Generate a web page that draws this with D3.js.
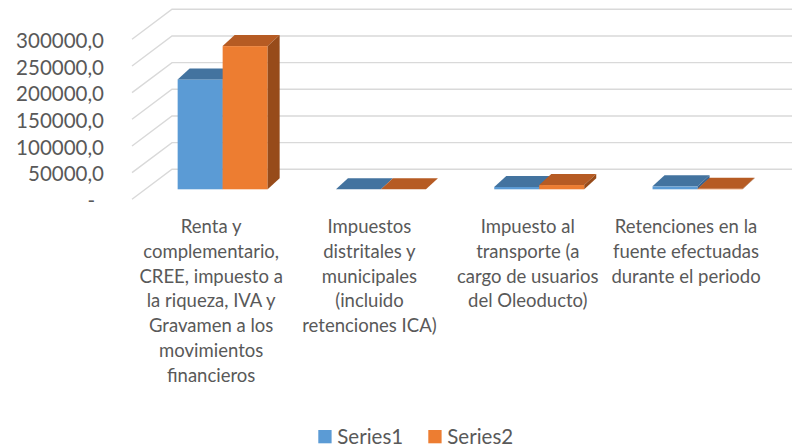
<!DOCTYPE html>
<html>
<head>
<meta charset="utf-8">
<script src="https://cdn.jsdelivr.net/npm/d3@7"></script>
<style>
  body { margin: 0; background: #fff; }
  svg text { font-family: Lato, "Open Sans", sans-serif; fill: #595959; }
</style>
</head>
<body>
<div id="chart"></div>
<script>
'use strict';

/*** Data */
const categories = [
    "Renta y\ncomplementario,\nCREE, impuesto a\nla riqueza, IVA y\nGravamen a los\nmovimientos\nfinancieros",
    "Impuestos\ndistritales y\nmunicipales\n(incluido\nretenciones ICA)",
    "Impuesto al\ntransporte (a\ncargo de usuarios\ndel Oleoducto)",
    "Retenciones en la\nfuente efectuadas\ndurante el periodo"
];
const seriesNames = ["Series1", "Series2"];
const series1 = [206000, 0, 4500, 5500];
const series2 = [268500, 0, 8000, 800];
const yTicks = [0, 50000, 100000, 150000, 200000, 250000, 300000];

/*** Layout */
const w = 792;
const h = 447;
const floorY = 199.3;        // front edge of the floor
const wallDx = 40, wallDy = -30;  // depth of the side wall
const barDx = 11.5, barDy = -10;  // where the bars sit in depth
const depthDx = 12, depthDy = -11; // bar thickness

const colors = [
    {front: "#5b9bd5", top: "#43739f", side: "#386390"},
    {front: "#ed7d31", top: "#b65b23", side: "#974b1a"}
];

const svg = d3.select("#chart")
    .append("svg")
    .attr("width", w)
    .attr("height", h);

const x = d3.scaleBand()
    .domain(d3.range(categories.length))
    .range([132, 132 + 4 * 158.3]);

const y = d3.scaleLinear()
    .domain([0, 300000])
    .range([0, 160]);

/** Gridlines: side wall diagonal + back wall line */
const grid = svg.append("g")
    .attr("fill", "none")
    .attr("stroke", "#d9d9d9")
    .attr("stroke-width", 1.4);

yTicks.forEach(v => {
    const yf = floorY - y(v);
    grid.append("path")
        .attr("d", d3.line()([[132, yf], [132 + wallDx, yf + wallDy], [w + 5, yf + wallDy]]));
});

/** Y axis labels */
const yLabels = svg.append("g");
yTicks.forEach(v => {
    yLabels.append("text")
        .attr("x", v === 0 ? 95 : 104)
        .attr("y", floorY - y(v) + 1.5)
        .attr("dy", "0.35em")
        .attr("text-anchor", "end")
        .style("font-size", "20.5px")
        .text(v === 0 ? "-" : d3.format("d")(v) + ",0");
});

/** Bars */
const groupW = 90;
const bars = svg.append("g");
[series1, series2].forEach((vals, s) => {
    vals.forEach((v, i) => {
        const x0 = x(i) + x.bandwidth() / 2 - groupW / 2 + s * groupW / 2 + barDx;
        const x1 = x0 + groupW / 2;
        const yb = floorY + barDy;
        const yt = yb - y(v);
        const c = colors[s];
        bars.append("rect")
            .attr("x", x0).attr("y", yt)
            .attr("width", x1 - x0).attr("height", yb - yt)
            .attr("fill", c.front);
        bars.append("path")
            .attr("d", d3.line()([[x0, yt], [x0 + depthDx, yt + depthDy], [x1 + depthDx, yt + depthDy], [x1, yt]]) + "Z")
            .attr("fill", c.top);
        bars.append("path")
            .attr("d", d3.line()([[x1, yt], [x1 + depthDx, yt + depthDy], [x1 + depthDx, yb + depthDy], [x1, yb]]) + "Z")
            .attr("fill", c.side);
    });
});

/** Category labels */
const catLabels = svg.append("g");
categories.forEach((c, i) => {
    const t = catLabels.append("text")
        .attr("text-anchor", "middle")
        .style("font-size", "18.5px");
    c.split("\n").forEach((line, j) => {
        t.append("tspan")
            .attr("x", x(i) + x.bandwidth() / 2)
            .attr("y", 233 + j * 24.8)
            .text(line);
    });
});

/** Legend */
const legendX = [318.3, 428.3];
const legend = svg.append("g");
seriesNames.forEach((name, s) => {
    legend.append("rect")
        .attr("x", legendX[s]).attr("y", 430)
        .attr("width", 13.3).attr("height", 13.3)
        .attr("fill", colors[s].front);
    legend.append("text")
        .attr("x", legendX[s] + 19)
        .attr("y", 436.5)
        .attr("dy", "0.35em")
        .style("font-size", "20.5px")
        .text(name);
});
</script>
</body>
</html>
